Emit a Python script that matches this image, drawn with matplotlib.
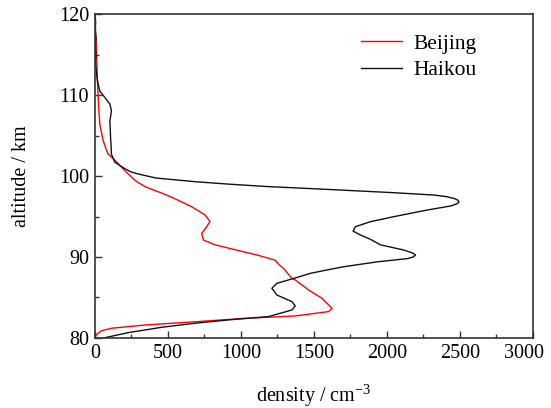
import matplotlib
matplotlib.use("Agg")
import matplotlib.pyplot as plt
from matplotlib.transforms import ScaledTranslation

plt.rcParams['font.family'] = ['Liberation Serif', 'DejaVu Serif']
plt.rcParams['mathtext.fontset'] = 'custom'
plt.rcParams['mathtext.rm'] = 'Liberation Serif'

haikou_alt = [120.0, 119.0, 118.0, 117.0, 116.0, 115.0, 114.0, 113.0, 111.8, 110.5, 109.7, 108.9,
              108.1, 107.5, 106.8, 105.8, 104.8, 103.7, 102.7, 101.7, 100.9, 100.5, 100.25, 99.75,
              99.3, 99.0, 98.7, 98.35, 97.94, 97.65, 97.45, 97.2, 97.0, 96.75, 96.55, 96.3, 95.8,
              94.98, 94.36, 93.74, 93.2, 92.72, 92.18, 91.5, 90.86, 90.5, 90.25, 90.0, 89.8, 89.4,
              88.8, 88.4, 87.98, 87.37, 86.75, 86.14, 85.31, 84.49, 83.96, 83.46, 82.64, 82.23,
              81.82, 81.32, 80.66, 80.0]
haikou_den = [2, 6, 3, 9, 4, 8, 5, 10, 18, 34, 69, 103,
              114, 110, 103, 106, 108, 112, 114, 137, 206, 250, 297, 420,
              686, 915, 1180, 1591, 2048, 2323, 2410, 2465, 2488, 2494, 2478, 2437, 2277,
              2048, 1888, 1785, 1769, 1819, 1888, 1957, 2117, 2175, 2197, 2180, 2140, 1934,
              1705, 1590, 1476, 1365, 1247, 1213, 1247, 1350, 1373, 1350, 1190, 915,
              686, 458, 229, 60]

beijing_alt = [120.0, 115.9, 111.8, 108.5, 106.4, 104.4, 103.2, 102.7, 101.97, 101.1, 100.25, 99.4,
               98.7, 98.2, 97.9, 97.2, 96.2, 95.2, 94.4, 93.75, 92.9, 92.1, 91.5, 90.9, 90.2,
               89.6, 89.0, 88.6, 87.37, 87.17, 85.93, 84.9, 83.67, 83.26, 82.72, 82.43, 82.0,
               81.6, 81.2, 80.9, 80.4, 80.0]
beijing_den = [0, 11, 18, 27, 34, 57, 80, 92, 137, 183, 229, 280,
               343, 412, 458, 549, 664, 755, 789, 767, 732, 744, 824, 961, 1121,
               1236, 1265, 1293, 1350, 1373, 1464, 1556, 1625, 1602, 1373, 1030, 686,
               343, 114, 46, 11, 0]

fig = plt.figure(figsize=(5.51, 4.08), dpi=100)
ax = fig.add_axes([0.172, 0.1716, 0.795, 0.794])

ax.plot(beijing_den, beijing_alt, color='#ff0000', lw=1.0, label='Beijing')
ax.plot(haikou_den, haikou_alt, color='#111111', lw=1.0, label='Haikou')

ax.set_xlim(0, 3000)
ax.set_ylim(80, 120)
ax.set_xticks(range(0, 3001, 500))
ax.set_xticks(range(250, 3000, 500), minor=True)
ax.set_yticks(range(80, 121, 10))
ax.set_yticks(range(85, 120, 10), minor=True)
ax.tick_params(which='both', direction='in', top=False, right=False, labelsize=14.5,
               color='#333333', pad=4)
ax.tick_params(which='major', length=5, width=1.0)
ax.tick_params(which='minor', length=3, width=1.0)
for s in ax.spines.values():
    s.set_linewidth(1.2)
    s.set_color('#333333')

# nudge the last x tick label inward so it stays inside the figure
last = ax.get_xticklabels()[-1]
last.set_transform(last.get_transform() + ScaledTranslation(-6 / 72, 0, fig.dpi_scale_trans))

ax.set_xlabel('density / cm$^{-3}$', fontsize=14.5, labelpad=14)
ax.set_ylabel('altitude / km', fontsize=14.5, labelpad=20)

ax.legend(loc='upper left', bbox_to_anchor=(0.607, 0.94), frameon=False, fontsize=15.5,
          handlelength=1.9, handletextpad=0.55, labelspacing=0.3, borderpad=0,
          borderaxespad=0)

fig.savefig('out.png', dpi=100)
